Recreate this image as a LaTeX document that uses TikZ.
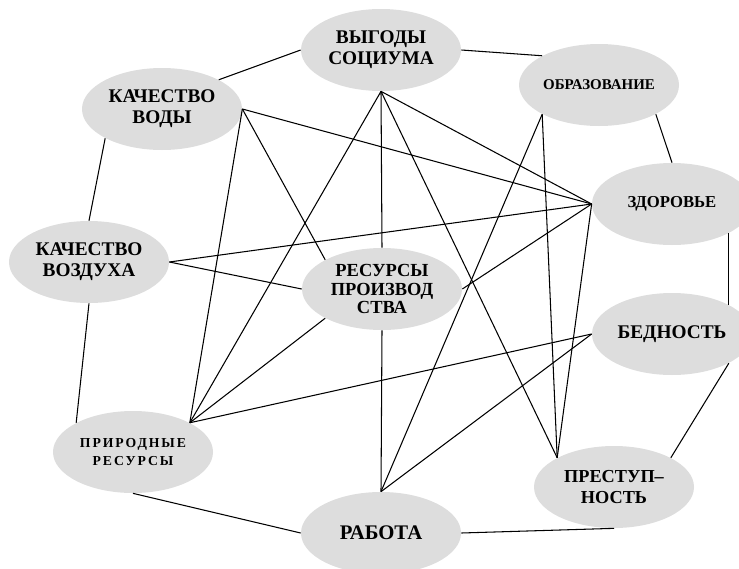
\documentclass[tikz,border=0pt]{standalone}
\usepackage{fontspec}
\setmainfont{Liberation Serif}[BoldFont={Liberation Serif Bold}]
\usepackage{tikz}
\usetikzlibrary{shapes.geometric}
\definecolor{ovalgray}{RGB}{221,221,221}
\tikzset{
	oval/.style={ellipse, fill=ovalgray, minimum width=3.2cm, minimum height=1.64cm, inner sep=0pt, align=center},
	link/.style={line width=0.6pt, color=black}
}

\begin{document}
\begin{tikzpicture}
		%%%%% START %%%%%
		\useasboundingbox (0, 0) rectangle (14.78, 11.36);
		
		\node[oval, font=\fontsize{11}{11.8}\selectfont\bfseries] (vygody) at (7.62, 10.36) {ВЫГОДЫ\\СОЦИУМА};
		\node[oval, font=\fontsize{11}{11.8}\selectfont\bfseries] (voda) at (3.24, 9.18) {КАЧЕСТВО\\ВОДЫ};
		\node[oval, font=\fontsize{8.5}{9}\selectfont\bfseries] (obraz) at (11.98, 9.66) {ОБРАЗОВАНИЕ};
		\node[oval, font=\fontsize{9.5}{10.5}\selectfont\bfseries] (zdorov) at (13.44, 7.28) {ЗДОРОВЬЕ};
		\node[oval, font=\fontsize{11}{11.8}\selectfont\bfseries] (vozduh) at (1.78, 6.12) {КАЧЕСТВО\\ВОЗДУХА};
		\node[oval, font=\fontsize{10.5}{10.6}\selectfont\bfseries] (resursy) at (7.64, 5.58) {РЕСУРСЫ\\ПРОИЗВОД\\СТВА};
		\node[oval, font=\fontsize{11}{11.8}\selectfont\bfseries] (bednost) at (13.44, 4.68) {БЕДНОСТЬ};
		\node[oval, font=\fontsize{7.8}{9.7}\selectfont\bfseries\addfontfeatures{LetterSpace=14}] (priroda) at (2.66, 2.32) {ПРИРОДНЫЕ\\РЕСУРСЫ};
		\node[oval, font=\fontsize{10.4}{11.8}\selectfont\bfseries] (prestup) at (12.28, 1.62) {ПРЕСТУП–\\НОСТЬ};
		\node[oval, font=\fontsize{11.8}{12}\selectfont\bfseries] (rabota) at (7.62, 0.70) {РАБОТА};
		
		% outer ring
		\draw[link] (vygody.west) -- (voda.north east);
		\draw[link] (vygody.east) -- (obraz.north west);
		\draw[link] (obraz.south east) -- (zdorov.north);
		\draw[link] (zdorov.south east) -- (bednost.north east);
		\draw[link] (bednost.south east) -- (prestup.north east);
		\draw[link] (prestup.south) -- (rabota.east);
		\draw[link] (rabota.west) -- (priroda.south);
		\draw[link] (priroda.north west) -- (vozduh.south);
		\draw[link] (vozduh.north) -- (voda.south west);
		
		% cross links
		\draw[link] (voda.east) -- (zdorov.west);
		\draw[link] (voda.east) -- (resursy.north west);
		\draw[link] (voda.east) -- (priroda.north east);
		
		\draw[link] (vygody.south) -- (resursy.north);
		\draw[link] (vygody.south) -- (zdorov.west);
		\draw[link] (vygody.south) -- (prestup.north west);
		\draw[link] (vygody.south) -- (priroda.north east);
		
		\draw[link] (obraz.south west) -- (prestup.north west);
		\draw[link] (obraz.south west) -- (rabota.north);
		
		\draw[link] (zdorov.west) -- (vozduh.east);
		\draw[link] (zdorov.west) -- (prestup.north west);
		\draw[link] (zdorov.west) -- (resursy.east);
		
		\draw[link] (vozduh.east) -- (resursy.west);
		\draw[link] (priroda.north east) -- (resursy.south west);
		\draw[link] (priroda.north east) -- (bednost.west);
		\draw[link] (rabota.north) -- (resursy.south);
		\draw[link] (rabota.north) -- (bednost.west);
		
		%%%%% END %%%%%
	\end{tikzpicture}
\end{document}
